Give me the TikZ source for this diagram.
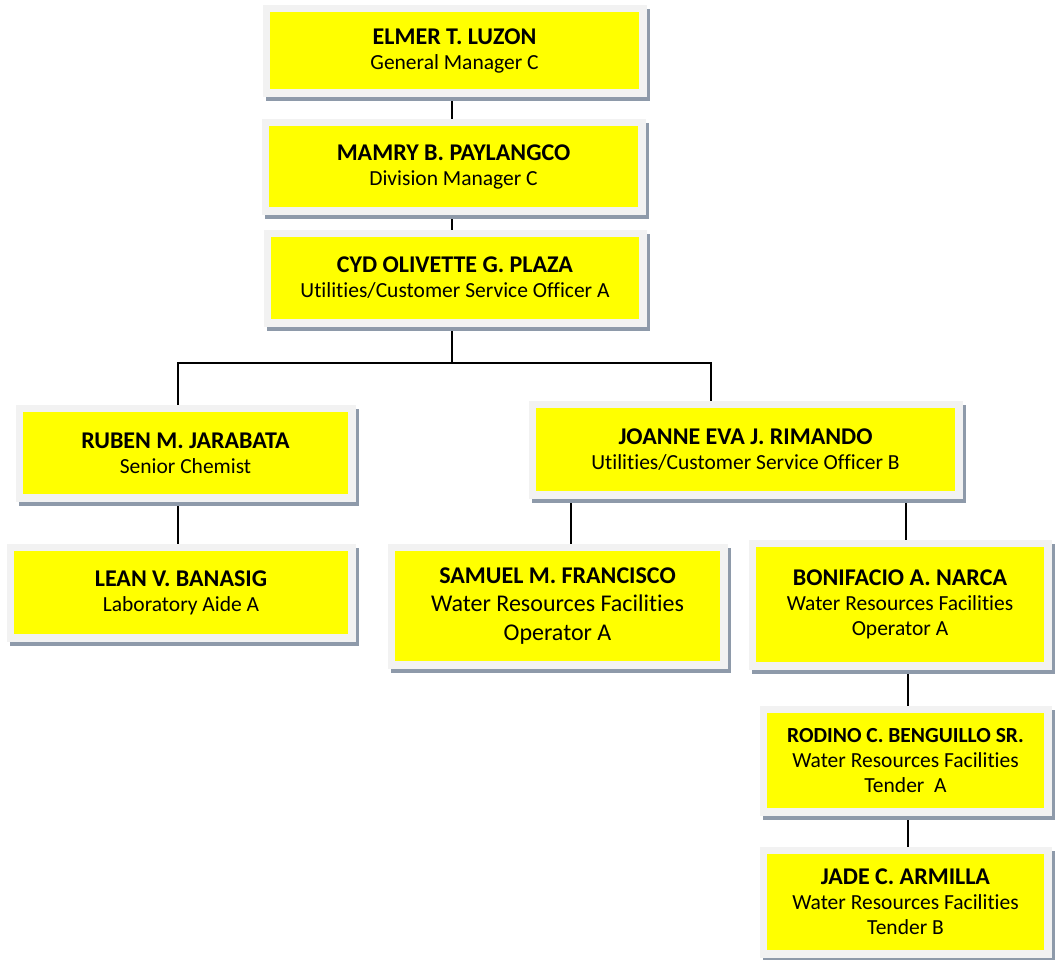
\documentclass[tikz,border=0pt]{standalone}
\usepackage{fontspec}
\setmainfont{Carlito}[Ligatures=NoCommon]
\usetikzlibrary{backgrounds}
\definecolor{boxyellow}{HTML}{FFFF00}
\definecolor{framegray}{HTML}{F2F2F2}
\definecolor{shadowgray}{HTML}{8E9AAA}
\newcommand\personname[2][24]{{\fontsize{#1}{25}\selectfont\bfseries #2}}
\tikzset{
  orgbox/.style={rectangle, fill=boxyellow, inner sep=0pt, align=center,
    font=\fontsize{21.5}{25}\selectfont,
    preaction={draw=shadowgray, fill=shadowgray, line width=15pt,
      transform canvas={shift={(3pt,-4pt)}}},
    preaction={draw=framegray, line width=15pt}},
  link/.style={draw=black, line width=1.6pt}
}
\begin{document}
\begin{tikzpicture}[x=1pt,y=-1pt]
\useasboundingbox (0,0) rectangle (1062,959);

% boxes (yellow area given; light frame and shadow come from the style)
\node[orgbox, minimum width=369pt, minimum height=77pt] (elmer) at (454.5,50.5)
  {\personname{ELMER T. LUZON}\\General Manager C};
\node[orgbox, minimum width=369pt, minimum height=81pt] (mamry) at (453.5,166.5)
  {\personname{MAMRY B. PAYLANGCO}\\Division Manager C};
\node[orgbox, minimum width=368pt, minimum height=82pt] (cyd) at (455,278)
  {\personname{CYD OLIVETTE G. PLAZA}\\Utilities/Customer Service Officer A};
\node[orgbox, minimum width=325pt, minimum height=82pt] (ruben) at (185.5,453)
  {\personname{RUBEN M. JARABATA}\\Senior Chemist};
\node[orgbox, minimum width=334pt, minimum height=83pt] (lean) at (181,592.5)
  {\personname{LEAN V. BANASIG}\\Laboratory Aide A};
\node[orgbox, minimum width=419pt, minimum height=83pt] (joanne) at (745.5,449.5)
  {\personname{JOANNE EVA J. RIMANDO}\\Utilities/Customer Service Officer B};
\node[orgbox, minimum width=325pt, minimum height=110pt,
      font=\fontsize{24}{28.5}\selectfont] (samuel) at (557.5,606)
  {\textbf{SAMUEL M. FRANCISCO}\\Water Resources Facilities\\Operator A};
\node[orgbox, minimum width=288pt, minimum height=115pt] (bonifacio) at (900,604.5)
  {\personname{BONIFACIO A. NARCA}\\Water Resources Facilities\\Operator A};
\node[orgbox, minimum width=277pt, minimum height=95pt] (rodino) at (905.5,760.5)
  {\personname[21.5]{RODINO C. BENGUILLO SR.}\\Water Resources Facilities\\Tender\ \ A};
\node[orgbox, minimum width=277pt, minimum height=96pt] (jade) at (905.5,902)
  {\personname{JADE C. ARMILLA}\\Water Resources Facilities\\Tender B};

% columns of the vertical connectors and the branching point
\coordinate (xa) at (452,0);
\coordinate (xl) at (178,0);
\coordinate (xr) at (711,0);
\coordinate (xs) at (571,0);
\coordinate (xb) at (906,0);
\coordinate (xc) at (908,0);
\coordinate (split) at (452,363);

\begin{pgfonlayer}{background}
  \draw[link] (elmer.center -| xa) -- (mamry.center -| xa);
  \draw[link] (mamry.center -| xa) -- (cyd.center -| xa);
  \draw[link] (cyd.center -| xa) -- (split);
  \draw[link] (split) -| (ruben.center -| xl);
  \draw[link] (split) -| (joanne.center -| xr);
  \draw[link] (ruben.center -| xl) -- (lean.center -| xl);
  \draw[link] (joanne.center -| xs) -- (samuel.center -| xs);
  \draw[link] (joanne.center -| xb) -- (bonifacio.center -| xb);
  \draw[link] (bonifacio.center -| xc) -- (rodino.center -| xc);
  \draw[link] (rodino.center -| xc) -- (jade.center -| xc);
\end{pgfonlayer}
\end{tikzpicture}
\end{document}
